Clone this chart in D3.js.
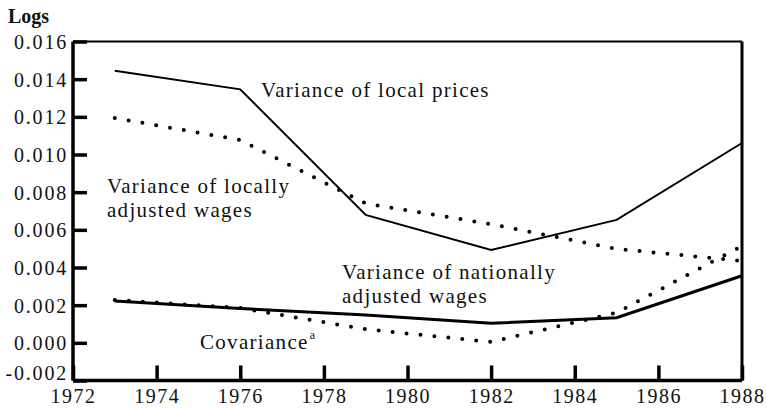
<!DOCTYPE html>
<html>
<head>
<meta charset="utf-8">
<script src="https://cdn.jsdelivr.net/npm/d3@7"></script>
<style>
  body { margin: 0; background: #fff; }
  svg { display: block; }
  text { font-family: "Liberation Serif", "Times New Roman", serif; fill: #111; }
</style>
</head>
<body>
<svg width="767" height="408"></svg>
<script>
// data
const years = [1973, 1976, 1979, 1982, 1985, 1988];
const localPrices = [0.01445, 0.01346, 0.00679, 0.00493, 0.00653, 0.01061];
const localWages = [0.01194, 0.01077, 0.00740, 0.00630, 0.00499, 0.00435];
const nationalWages = [0.00222, 0.00182, 0.00148, 0.00104, 0.00133, 0.00356];
const covariance = [0.00228, 0.00185, 0.00072, 0.00005, 0.00160, 0.00515];
const xTicks = [1972, 1974, 1976, 1978, 1980, 1982, 1984, 1986, 1988];
const yTicks = [-0.002, 0, 0.002, 0.004, 0.006, 0.008, 0.010, 0.012, 0.014, 0.016];

let svg = d3.select("svg");

let x = d3.scaleLinear().domain([1972, 1988]).range([73, 742]);
let y = d3.scaleLinear().domain([-0.002, 0.016]).range([380.5, 41.5]);

let line = d3.line()
  .x(d => x(d[0]))
  .y(d => y(d[1]));

// frame
svg.append("path")
  .attr("d", `M${x(1972)},${y(0.016)}H${x(1988)}`)
  .attr("stroke", "#000").attr("stroke-width", 2).attr("fill", "none");
svg.append("path")
  .attr("d", `M${x(1988)},${y(0.016)}V${y(-0.002)}`)
  .attr("stroke", "#000").attr("stroke-width", 3).attr("fill", "none");

// y axis, ticks point inward
let yAxis = svg.append("g")
  .attr("transform", `translate(${x(1972)},0)`)
  .call(d3.axisRight(y).tickValues(yTicks).tickSize(14).tickFormat(""));
yAxis.select(".domain").attr("stroke-width", 3.5).attr("d", `M0,${y(0.016)}V${y(-0.002)}`);
yAxis.selectAll(".tick line").attr("stroke", "#000").attr("stroke-width", 3.5);

yAxis.selectAll(".tick").append("text")
  .attr("x", -5)
  .attr("dy", d => d < 0 ? "-0.05em" : "0.35em") // bottom label sits a bit above the axis
  .attr("text-anchor", "end")
  .attr("font-family", "Liberation Serif")
  .attr("fill", "#111")
  .style("font-size", "20px")
  .style("letter-spacing", "1.8px")
  .text(d => d3.format(".3f")(d).replace("−", "-"));

// x axis, ticks point upward
let xAxis = svg.append("g")
  .attr("transform", `translate(0,${y(-0.002)})`)
  .call(d3.axisTop(x).tickValues(xTicks).tickSize(15).tickFormat(""));
xAxis.select(".domain").attr("stroke-width", 3.5).attr("d", `M${x(1972)},0H${x(1988)}`);
xAxis.selectAll(".tick line").attr("stroke", "#000").attr("stroke-width", 3.5);
xAxis.selectAll(".tick").append("text")
  .attr("y", 22.5)
  .attr("text-anchor", "middle")
  .attr("font-family", "Liberation Serif")
  .attr("fill", "#111")
  .style("font-size", "20px")
  .style("letter-spacing", "1.5px")
  .text(d => d);

// Logs label
svg.append("text")
  .attr("x", 8).attr("y", 23)
  .style("font-size", "20px")
  .style("font-weight", "bold")
  .text("Logs");

// series
let series = [
  {vals: localPrices, dotted: false, w: 2},
  {vals: localWages, dotted: true, w: 4},
  {vals: nationalWages, dotted: false, w: 3},
  {vals: covariance, dotted: true, w: 4}
];

series.forEach(s => {
  let pts = years.map((yr, i) => [yr, s.vals[i]]);
  let p = svg.append("path")
    .attr("d", line(pts))
    .attr("fill", "none")
    .attr("stroke", "#000")
    .attr("stroke-width", s.w);
  if (s.dotted) {
    p.attr("stroke-dasharray", "0 14").attr("stroke-linecap", "round");
  }
});

// labels
function label(lines, lx, ly) {
  let t = svg.append("text").style("font-size", "21px").style("letter-spacing", "1.3px");
  lines.forEach((l, i) => {
    t.append("tspan").attr("x", lx).attr("y", ly + i * 24).text(l);
  });
  return t;
}
label(["Variance of local prices"], 261, 97);
label(["Variance of locally", "adjusted wages"], 107, 193);
label(["Variance of nationally", "adjusted wages"], 342, 279);
let cov = label(["Covariance"], 200, 349);
cov.append("tspan")
  .attr("dy", -10)
  .attr("dx", 1)
  .style("font-size", "12px")
  .text("a");
</script>
</body>
</html>
